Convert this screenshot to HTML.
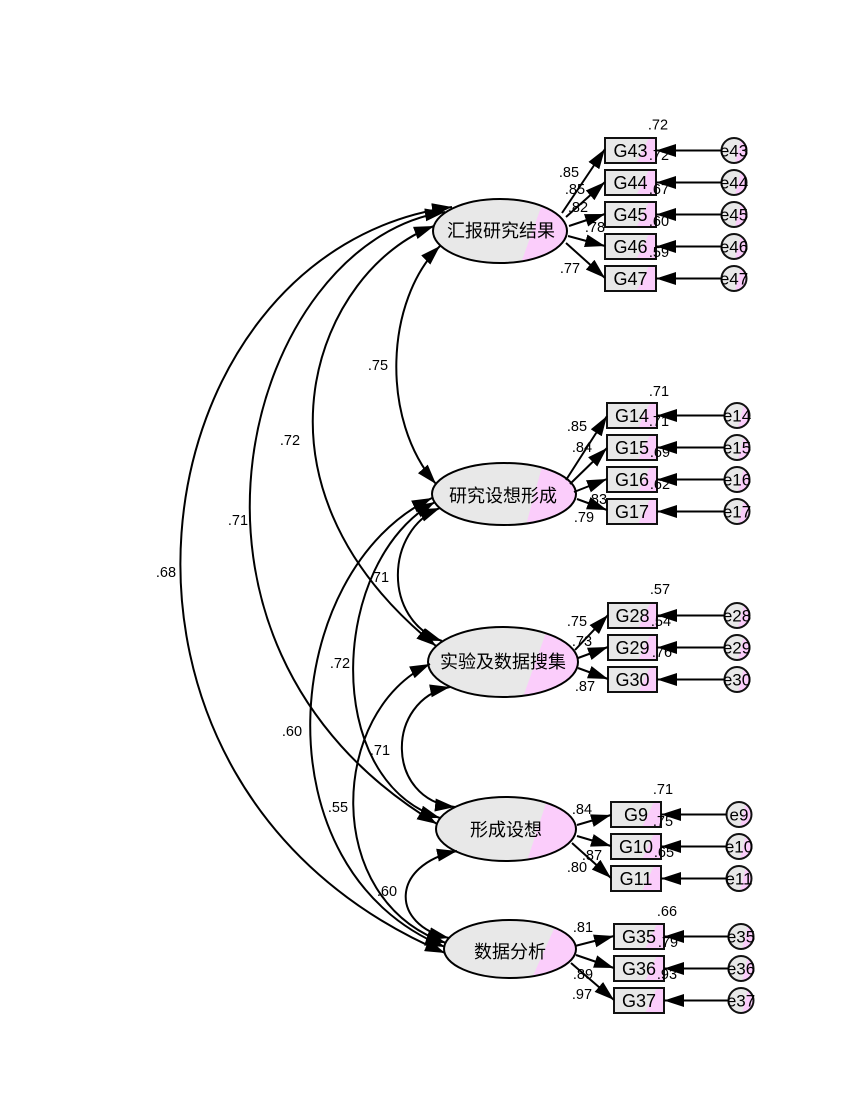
<!DOCTYPE html>
<html><head><meta charset="utf-8">
<style>
html,body{margin:0;padding:0;background:#fff;}
svg{display:block;}
text{font-family:"Liberation Sans","Noto Sans CJK SC",sans-serif;fill:#000;dominant-baseline:central;text-anchor:middle;}
.n{font-size:14.5px;}
.b{font-size:18px;}
.e{font-size:17px;}
.f{font-size:18px;}
.ln{fill:none;stroke:#000;stroke-width:2;}
.ar{fill:none;stroke:#000;stroke-width:2;marker-end:url(#a);}
.cv{fill:none;stroke:#000;stroke-width:2;marker-start:url(#a);marker-end:url(#a);}
.bx{fill:url(#gb);stroke:#111;stroke-width:2;}
.ci{fill:url(#gc);stroke:#111;stroke-width:2;}
</style></head><body>
<svg width="850" height="1100" viewBox="0 0 850 1100" xmlns="http://www.w3.org/2000/svg">
<defs>
<marker id="a" markerUnits="userSpaceOnUse" markerWidth="20" markerHeight="13" refX="20" refY="6.5" orient="auto-start-reverse" viewBox="0 0 20 13"><path d="M0,0 L20,6.5 L0,13 z" fill="#000"/></marker>
<linearGradient id="gb" x1="0" y1="0" x2="1" y2="0.24"><stop offset="0.813" stop-color="#e8e8e8"/><stop offset="0.813" stop-color="#fbcdfb"/></linearGradient>
<linearGradient id="gc" x1="0" y1="0" x2="1" y2="0.25"><stop offset="0.745" stop-color="#e8e8e8"/><stop offset="0.745" stop-color="#fbcdfb"/></linearGradient>
<clipPath id="c1"><ellipse cx="500" cy="231" rx="67" ry="32"/></clipPath>
<clipPath id="c2"><ellipse cx="504" cy="494" rx="72" ry="31"/></clipPath>
<clipPath id="c3"><ellipse cx="503" cy="662" rx="75" ry="35"/></clipPath>
<clipPath id="c4"><ellipse cx="506" cy="829" rx="70" ry="32"/></clipPath>
<clipPath id="c5"><ellipse cx="510" cy="949" rx="66" ry="29"/></clipPath>
</defs>

<!-- Ellipses -->
<ellipse cx="500" cy="231" rx="67" ry="32" fill="#e8e8e8"/>
<polygon clip-path="url(#c1)" points="544,199 569,199 569,263 521,263" fill="#fbcdfb"/>
<ellipse cx="500" cy="231" rx="67" ry="32" class="ln"/>
<text class="f" x="501" y="231">汇报研究结果</text>

<ellipse cx="504" cy="494" rx="72" ry="31" fill="#e8e8e8"/>
<polygon clip-path="url(#c2)" points="543,463 578,463 578,525 526,525" fill="#fbcdfb"/>
<ellipse cx="504" cy="494" rx="72" ry="31" class="ln"/>
<text class="f" x="503" y="496">研究设想形成</text>

<ellipse cx="503" cy="662" rx="75" ry="35" fill="#e8e8e8"/>
<polygon clip-path="url(#c3)" points="548,627 580,627 580,697 523,697" fill="#fbcdfb"/>
<ellipse cx="503" cy="662" rx="75" ry="35" class="ln"/>
<text class="f" x="503" y="662">实验及数据搜集</text>

<ellipse cx="506" cy="829" rx="70" ry="32" fill="#e8e8e8"/>
<polygon clip-path="url(#c4)" points="548,797 578,797 578,861 527,861" fill="#fbcdfb"/>
<ellipse cx="506" cy="829" rx="70" ry="32" class="ln"/>
<text class="f" x="506" y="830">形成设想</text>

<ellipse cx="510" cy="949" rx="66" ry="29" fill="#e8e8e8"/>
<polygon clip-path="url(#c5)" points="558,920 578,920 578,978 532,978" fill="#fbcdfb"/>
<ellipse cx="510" cy="949" rx="66" ry="29" class="ln"/>
<text class="f" x="510" y="952">数据分析</text>

<!-- Boxes cluster 1 -->
<rect class="bx" x="605" y="138" width="51" height="25"/><text class="b" x="630.5" y="151">G43</text>
<rect class="bx" x="605" y="170" width="51" height="25"/><text class="b" x="630.5" y="183">G44</text>
<rect class="bx" x="605" y="202" width="51" height="25"/><text class="b" x="630.5" y="215">G45</text>
<rect class="bx" x="605" y="234" width="51" height="25"/><text class="b" x="630.5" y="247">G46</text>
<rect class="bx" x="605" y="266" width="51" height="25"/><text class="b" x="630.5" y="279">G47</text>
<!-- cluster 2 -->
<rect class="bx" x="607" y="403" width="50" height="25"/><text class="b" x="632" y="416">G14</text>
<rect class="bx" x="607" y="435" width="50" height="25"/><text class="b" x="632" y="448">G15</text>
<rect class="bx" x="607" y="467" width="50" height="25"/><text class="b" x="632" y="480">G16</text>
<rect class="bx" x="607" y="499" width="50" height="25"/><text class="b" x="632" y="512">G17</text>
<!-- cluster 3 -->
<rect class="bx" x="608" y="603" width="49" height="25"/><text class="b" x="632.5" y="616">G28</text>
<rect class="bx" x="608" y="635" width="49" height="25"/><text class="b" x="632.5" y="648">G29</text>
<rect class="bx" x="608" y="667" width="49" height="25"/><text class="b" x="632.5" y="680">G30</text>
<!-- cluster 4 -->
<rect class="bx" x="611" y="802" width="50" height="25"/><text class="b" x="636" y="815">G9</text>
<rect class="bx" x="611" y="834" width="50" height="25"/><text class="b" x="636" y="847">G10</text>
<rect class="bx" x="611" y="866" width="50" height="25"/><text class="b" x="636" y="879">G11</text>
<!-- cluster 5 -->
<rect class="bx" x="614" y="924" width="50" height="25"/><text class="b" x="639" y="937">G35</text>
<rect class="bx" x="614" y="956" width="50" height="25"/><text class="b" x="639" y="969">G36</text>
<rect class="bx" x="614" y="988" width="50" height="25"/><text class="b" x="639" y="1001">G37</text>

<!-- Error circles -->
<circle class="ci" cx="734" cy="150.5" r="12.5"/><text class="e" x="734" y="151">e43</text>
<circle class="ci" cx="734" cy="182.5" r="12.5"/><text class="e" x="734" y="183">e44</text>
<circle class="ci" cx="734" cy="214.5" r="12.5"/><text class="e" x="734" y="215">e45</text>
<circle class="ci" cx="734" cy="246.5" r="12.5"/><text class="e" x="734" y="247">e46</text>
<circle class="ci" cx="734" cy="278.5" r="12.5"/><text class="e" x="734" y="279">e47</text>

<circle class="ci" cx="737" cy="415.5" r="12.5"/><text class="e" x="737" y="416">e14</text>
<circle class="ci" cx="737" cy="447.5" r="12.5"/><text class="e" x="737" y="448">e15</text>
<circle class="ci" cx="737" cy="479.5" r="12.5"/><text class="e" x="737" y="480">e16</text>
<circle class="ci" cx="737" cy="511.5" r="12.5"/><text class="e" x="737" y="512">e17</text>

<circle class="ci" cx="737" cy="615.5" r="12.5"/><text class="e" x="737" y="616">e28</text>
<circle class="ci" cx="737" cy="647.5" r="12.5"/><text class="e" x="737" y="648">e29</text>
<circle class="ci" cx="737" cy="679.5" r="12.5"/><text class="e" x="737" y="680">e30</text>

<circle class="ci" cx="739" cy="814.5" r="12.5"/><text class="e" x="739" y="815">e9</text>
<circle class="ci" cx="739" cy="846.5" r="12.5"/><text class="e" x="739" y="847">e10</text>
<circle class="ci" cx="739" cy="878.5" r="12.5"/><text class="e" x="739" y="879">e11</text>

<circle class="ci" cx="741" cy="936.5" r="12.5"/><text class="e" x="741" y="937">e35</text>
<circle class="ci" cx="741" cy="968.5" r="12.5"/><text class="e" x="741" y="969">e36</text>
<circle class="ci" cx="741" cy="1000.5" r="12.5"/><text class="e" x="741" y="1001">e37</text>

<!-- Numeric labels -->
<g>
<text class="n" x="658" y="125.5">.72</text>
<text class="n" x="659" y="156">.72</text>
<text class="n" x="659" y="190">.67</text>
<text class="n" x="659" y="222">.60</text>
<text class="n" x="659" y="253">.59</text>
<text class="n" x="569" y="173">.85</text>
<text class="n" x="575" y="190">.85</text>
<text class="n" x="578" y="208">.82</text>
<text class="n" x="595" y="228">.78</text>
<text class="n" x="570" y="269">.77</text>

<text class="n" x="659" y="392">.71</text>
<text class="n" x="659" y="422">.71</text>
<text class="n" x="660" y="453">.69</text>
<text class="n" x="660" y="485">.62</text>
<text class="n" x="577" y="427">.85</text>
<text class="n" x="582" y="448">.84</text>
<text class="n" x="597" y="500">.83</text>
<text class="n" x="584" y="518">.79</text>

<text class="n" x="660" y="590">.57</text>
<text class="n" x="661" y="622">.54</text>
<text class="n" x="662" y="653">.76</text>
<text class="n" x="577" y="622">.75</text>
<text class="n" x="582" y="642">.73</text>
<text class="n" x="585" y="687">.87</text>

<text class="n" x="663" y="790">.71</text>
<text class="n" x="663" y="822">.75</text>
<text class="n" x="664" y="853">.65</text>
<text class="n" x="582" y="810">.84</text>
<text class="n" x="592" y="856">.87</text>
<text class="n" x="577" y="868">.80</text>

<text class="n" x="667" y="912">.66</text>
<text class="n" x="668" y="943">.79</text>
<text class="n" x="667" y="975">.93</text>
<text class="n" x="583" y="928">.81</text>
<text class="n" x="583" y="975">.89</text>
<text class="n" x="582" y="995">.97</text>

<text class="n" x="378" y="366">.75</text>
<text class="n" x="290" y="441">.72</text>
<text class="n" x="238" y="521">.71</text>
<text class="n" x="166" y="573">.68</text>
<text class="n" x="379" y="578">.71</text>
<text class="n" x="340" y="664">.72</text>
<text class="n" x="292" y="732">.60</text>
<text class="n" x="380" y="751">.71</text>
<text class="n" x="338" y="808">.55</text>
<text class="n" x="387" y="892">.60</text>
</g>

<!-- Covariance curves -->
<path class="cv" d="M440,246 C385,300 380,420 436,484"/>
<path class="cv" d="M434,226 C320,268 230,480 436,646"/>
<path class="cv" d="M445,212 C250,240 130,640 437,824"/>
<path class="cv" d="M452,207 C135,250 50,785 445,953"/>
<path class="cv" d="M440,508 C385,530 382,620 442,641"/>
<path class="cv" d="M435,502 C330,560 320,780 440,818"/>
<path class="cv" d="M432,498 C280,570 255,870 445,947"/>
<path class="cv" d="M450,687 C385,700 385,800 455,807"/>
<path class="cv" d="M430,664 C330,710 320,900 446,943"/>
<path class="cv" d="M457,851 C390,865 390,925 449,938"/>

<!-- Factor to indicator arrows -->
<path class="ar" d="M562,213 L605,149"/>
<path class="ar" d="M566,217 L605,182"/>
<path class="ar" d="M569,226 L605,214"/>
<path class="ar" d="M568,236 L605,246"/>
<path class="ar" d="M566,243 L605,278"/>

<path class="ar" d="M566,480 L607,416"/>
<path class="ar" d="M570,484 L607,448"/>
<path class="ar" d="M574,492 L607,479"/>
<path class="ar" d="M577,499 L607,510"/>

<path class="ar" d="M575,650 L608,615"/>
<path class="ar" d="M578,658 L608,647"/>
<path class="ar" d="M578,668 L608,679"/>

<path class="ar" d="M577,825 L611,815"/>
<path class="ar" d="M577,836 L611,846"/>
<path class="ar" d="M572,843 L611,878"/>

<path class="ar" d="M575,946 L614,936"/>
<path class="ar" d="M576,955 L614,968"/>
<path class="ar" d="M571,963 L614,1000"/>

<!-- Error arrows -->
<path class="ar" d="M721.5,150.5 L656,150.5"/>
<path class="ar" d="M721.5,182.5 L656,182.5"/>
<path class="ar" d="M721.5,214.5 L656,214.5"/>
<path class="ar" d="M721.5,246.5 L656,246.5"/>
<path class="ar" d="M721.5,278.5 L656,278.5"/>

<path class="ar" d="M724.5,415.5 L657,415.5"/>
<path class="ar" d="M724.5,447.5 L657,447.5"/>
<path class="ar" d="M724.5,479.5 L657,479.5"/>
<path class="ar" d="M724.5,511.5 L657,511.5"/>

<path class="ar" d="M724.5,615.5 L657,615.5"/>
<path class="ar" d="M724.5,647.5 L657,647.5"/>
<path class="ar" d="M724.5,679.5 L657,679.5"/>

<path class="ar" d="M726.5,814.5 L661,814.5"/>
<path class="ar" d="M726.5,846.5 L661,846.5"/>
<path class="ar" d="M726.5,878.5 L661,878.5"/>

<path class="ar" d="M728.5,936.5 L664,936.5"/>
<path class="ar" d="M728.5,968.5 L664,968.5"/>
<path class="ar" d="M728.5,1000.5 L664,1000.5"/>
</svg>
</body></html>
